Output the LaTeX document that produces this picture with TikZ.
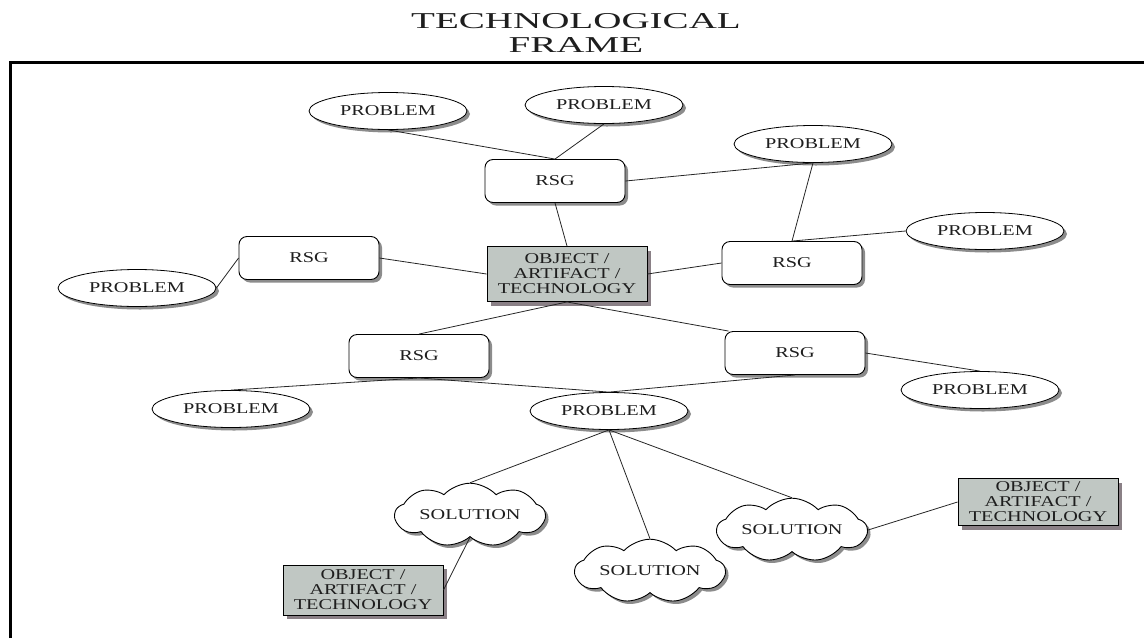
\documentclass[tikz,border=0pt]{standalone}
\usepackage{fontspec}
\setmainfont{Liberation Serif}
\newfontfamily\wideserif[FakeStretch=1.35]{Liberation Serif}
\newfontfamily\titleserif[FakeStretch=1.72]{Liberation Serif}
\usetikzlibrary{shapes.geometric,shapes.symbols,shadows}
\definecolor{objfill}{RGB}{192,199,195}
\definecolor{objshadow}{RGB}{138,128,134}
\definecolor{txt}{RGB}{30,30,30}
\tikzset{
  x=1pt, y=-1pt,
  shadowed/.style={drop shadow={shadow xshift=3pt,shadow yshift=-3pt,fill=black!45,opacity=1}},
  nodefont/.style={font=\wideserif\fontsize{15}{15}\selectfont, text=txt},
  prob/.style={ellipse, draw, line width=0.8pt, fill=white, minimum width=158pt, minimum height=37pt, inner sep=0pt, nodefont, shadowed},
  rsg/.style={rectangle, rounded corners=8pt, draw, line width=0.9pt, fill=white, minimum width=140pt, minimum height=43pt, inner sep=0pt, nodefont, shadowed},
  obj/.style={rectangle, draw, line width=0.9pt, fill=objfill, minimum width=160pt, inner sep=0pt, align=center, nodefont, drop shadow={shadow xshift=4pt,shadow yshift=-4pt,fill=objshadow,opacity=1}},
  sol/.style={cloud, cloud puffs=9, cloud puff arc=95, aspect=3.2, draw, line width=0.9pt, fill=white, minimum width=150pt, minimum height=46pt, inner sep=0pt, nodefont, shadowed},
  link/.style={draw=black!85, line width=0.8pt},
  frameline/.style={line width=3pt, black}
}
\begin{document}
\begin{tikzpicture}
\useasboundingbox (0,0) rectangle (1144,638);
% title
\node[font=\titleserif\fontsize{22.7}{24}\selectfont, text=txt] (t1) at (576,21) {TECHNOLOGICAL};
\node[font=\titleserif\fontsize{22.7}{24}\selectfont, text=txt] (t2) at (576,45) {FRAME};
% frame
\draw[frameline] (10,638) -- (10,62) -- (1144,62);
% nodes
\node[prob] (p1) at (388,111) {PROBLEM};
\node[prob] (p2) at (604,105) {PROBLEM};
\node[prob] (p3) at (813,144) {PROBLEM};
\node[prob] (p4) at (985,231) {PROBLEM};
\node[prob] (pL) at (137,288) {PROBLEM};
\node[prob] (pLL) at (231,409) {PROBLEM};
\node[prob] (pC) at (609,411) {PROBLEM};
\node[prob] (pR) at (980,390) {PROBLEM};
\node[rsg] (r1) at (555,181) {RSG};
\node[rsg] (r2) at (792,263) {RSG};
\node[rsg] (rL) at (309,258) {RSG};
\node[rsg] (r3) at (419,356) {RSG};
\node[rsg] (r4) at (795,353) {RSG};
\node[obj, minimum height=55pt] (o1) at (567,274) {OBJECT /\\ARTIFACT /\\TECHNOLOGY};
\node[obj, minimum height=47pt] (o2) at (1038,502) {OBJECT /\\ARTIFACT /\\TECHNOLOGY};
\node[obj, minimum height=50pt] (o3) at (363,590) {OBJECT /\\ARTIFACT /\\TECHNOLOGY};
\node[sol] (s1) at (470,515) {SOLUTION};
\node[sol] (s2) at (650,571) {SOLUTION};
\node[sol] (s3) at (792,530) {SOLUTION};
% connectors
\draw[link] (p1.south) -- (r1.north);
\draw[link] (p2.south) -- (r1.north);
\draw[link] (r1.east) -- (p3.south);
\draw[link] (p3.south) -- (r2.north);
\draw[link] (r2.north) -- (p4.west);
\draw[link] (r1.south) -- (o1.north);
\draw[link] (rL.east) -- (o1.west);
\draw[link] (o1.east) -- (r2.west);
\draw[link] (rL.west) -- (pL.east);
\draw[link] (o1.south) -- (r3.north);
\draw[link] (o1.south) -- ([xshift=4pt]r4.north west);
\draw[link] (pLL.north) -- (r3.south);
\draw[link] (r3.south) -- (pC.north);
\draw[link] (r4.south) -- (pC.north);
\draw[link] (r4.east) -- (pR.north);
\draw[link] (pC.south) -- (s1.north);
\draw[link] (pC.south) -- (s2.north);
\draw[link] (pC.south) -- (s3.north);
\draw[link] (s3.east) -- (o2.west);
\draw[link] (s1.south) -- (o3.east);
\end{tikzpicture}
\end{document}
